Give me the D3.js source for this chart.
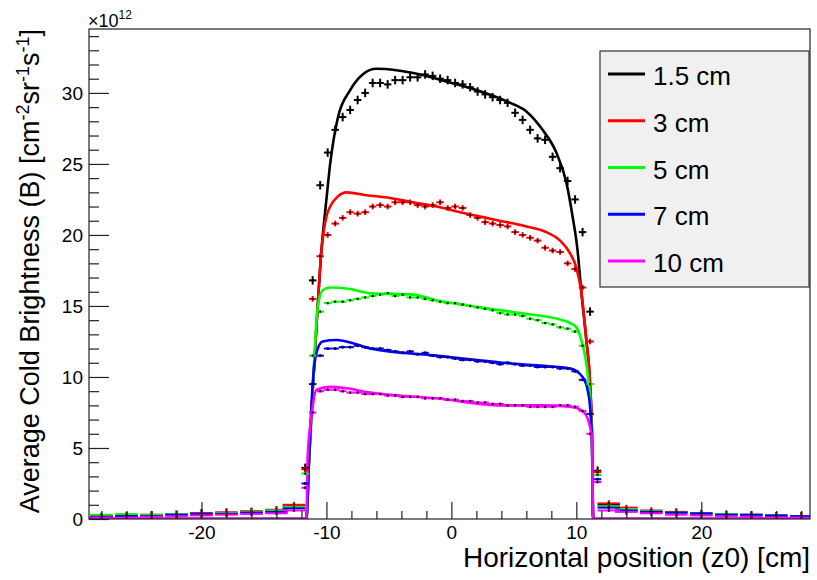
<html>
<head>
<script src="https://cdn.jsdelivr.net/npm/d3@7"></script>
<style>
body { margin: 0; background: #fff; }
text { font-family: "Liberation Sans", Arial, sans-serif; fill: #000; }
</style>
</head>
<body>
<div id="chart"></div>
<script>
// legend entries
const seriesNames = ["1.5 cm", "3 cm", "5 cm", "7 cm", "10 cm"];
const seriesColors = ["#000000", "#ff0000", "#00ff00", "#0000ff", "#ff00ff"];

// bin centres of the measured points inside the slit (cm)
const binX = [-11.7, -11.1, -10.5, -9.9, -9.3, -8.7, -8.1, -7.5, -6.9, -6.3, -5.7, -5.1, -4.5, -3.9, -3.3, -2.7, -2.1, -1.5, -0.9, -0.3,
              0.3, 0.9, 1.5, 2.1, 2.7, 3.3, 3.9, 4.5, 5.1, 5.7, 6.3, 6.9, 7.5, 8.1, 8.7, 9.3, 9.9, 10.5, 11.1, 11.7];

// measured brightness (x1e12)
const data15 = [3.6, 16.8, 23.5, 25.8, 27.4, 28.3, 28.8, 29.5, 30.0, 30.7, 30.7, 30.6, 30.9, 30.9, 31.1, 31.1, 31.3, 31.2, 31.0, 30.9,
                30.7, 30.6, 30.4, 30.1, 29.9, 29.7, 29.5, 29.3, 28.6, 28.1, 27.4, 26.8, 26.7, 25.5, 24.7, 23.8, 22.5, 20.2, 14.6, 3.4];
const data3  = [3.5, 15.5, 18.5, 20.0, 20.8, 21.2, 21.6, 21.5, 21.6, 22.0, 22.1, 22.0, 22.3, 22.3, 22.3, 22.1, 22.0, 22.1, 22.3, 21.9,
                22.0, 21.9, 21.4, 21.2, 20.9, 20.8, 20.7, 20.6, 20.2, 20.0, 19.8, 19.6, 19.1, 18.9, 18.8, 18.0, 17.6, 16.3, 12.5, 3.3];
const data5  = [3.2, 11.5, 14.6, 15.2, 15.3, 15.3, 15.4, 15.5, 15.6, 15.7, 15.8, 15.9, 15.7, 15.8, 15.6, 15.6, 15.5, 15.4, 15.3, 15.2,
                15.2, 15.1, 15.0, 14.9, 14.8, 14.7, 14.5, 14.4, 14.4, 14.3, 14.1, 14.0, 13.8, 13.7, 13.5, 13.4, 13.2, 12.2, 9.5, 3.1];
const data7  = [2.5, 9.5, 11.5, 12.0, 12.0, 12.1, 12.1, 12.2, 12.1, 12.0, 12.0, 11.9, 11.8, 11.7, 11.8, 11.6, 11.7, 11.5, 11.4, 11.4,
                11.3, 11.2, 11.2, 11.1, 11.1, 11.0, 10.9, 11.0, 10.9, 10.8, 10.8, 10.7, 10.7, 10.7, 10.6, 10.6, 10.4, 9.8, 7.4, 2.8];
const data10 = [2.2, 7.5, 9.0, 9.1, 9.1, 9.0, 8.9, 8.9, 8.8, 8.8, 8.8, 8.7, 8.7, 8.6, 8.6, 8.6, 8.5, 8.5, 8.5, 8.4,
                8.4, 8.3, 8.3, 8.2, 8.2, 8.1, 8.1, 8.0, 8.0, 8.0, 7.9, 7.9, 7.9, 7.9, 8.0, 8.0, 7.9, 7.6, 6.0, 2.6];

// wider bins outside the slit
const tailX = [-28, -26, -24, -22, -20, -18, -16, -14, -12.6, 12.6, 14, 16, 18, 20, 22, 24, 26, 28];
const tail15 = [0.15, 0.2, 0.25, 0.3, 0.4, 0.45, 0.5, 0.6, 0.9, 1.0, 0.6, 0.5, 0.45, 0.35, 0.3, 0.25, 0.2, 0.2];
const tail3  = [0.2, 0.2, 0.3, 0.35, 0.4, 0.45, 0.55, 0.65, 1.0, 1.1, 0.8, 0.6, 0.5, 0.4, 0.35, 0.3, 0.25, 0.2];
const tail5  = [0.3, 0.35, 0.3, 0.35, 0.35, 0.4, 0.5, 0.6, 0.85, 0.9, 0.7, 0.55, 0.45, 0.4, 0.35, 0.3, 0.25, 0.2];
const tail7  = [0.15, 0.2, 0.2, 0.3, 0.35, 0.35, 0.45, 0.5, 0.75, 0.8, 0.6, 0.5, 0.45, 0.4, 0.3, 0.3, 0.25, 0.2];
const tail10 = [0.1, 0.1, 0.15, 0.2, 0.25, 0.3, 0.35, 0.4, 0.6, 0.6, 0.5, 0.4, 0.3, 0.25, 0.2, 0.15, 0.1, 0.1];

// fitted model curves, [z0, B]
const fit15 = [[-29, 0], [-11.6, 0], [-11.4, 4], [-11.1, 9], [-10.8, 13.5], [-10.4, 18.9], [-10.0, 22.5], [-9.7, 25.0], [-9.1, 28.2],
               [-8.1, 30.2], [-7.1, 31.3], [-6.0, 31.7], [-4.4, 31.6], [-2.5, 31.3], [-0.4, 30.8], [2.0, 30.2], [4.7, 29.3],
               [6.0, 28.7], [7.3, 27.4], [8.4, 25.8], [9.2, 23.7], [9.7, 21.3], [10.1, 18.9], [10.4, 16.0], [10.8, 12.6],
               [11.1, 9.5], [11.25, 6], [11.35, 0], [28.7, 0]];
const fit3  = [[-29, 0], [-11.6, 0], [-11.4, 4], [-11.1, 9], [-10.8, 13.5], [-10.4, 18.9], [-10.0, 21.3], [-9.7, 22.0], [-9.1, 22.7],
               [-8.4, 23.0], [-6.8, 22.8], [-4.9, 22.6], [-3.1, 22.3], [-1.2, 22.0], [0.7, 21.6], [2.3, 21.3], [3.3, 21.1],
               [6.0, 20.6], [7.6, 20.2], [8.7, 19.6], [9.5, 18.7], [10.0, 17.7], [10.4, 16.0], [10.8, 12.6], [11.1, 9.5],
               [11.25, 6], [11.35, 0], [28.7, 0]];
const fit5  = [[-29, 0], [-11.6, 0], [-11.4, 4], [-11.1, 9], [-10.9, 12.5], [-10.7, 14.9], [-10.3, 16.1], [-9.7, 16.3], [-8.1, 16.2],
               [-6.5, 15.9], [-3.1, 15.8], [-1.2, 15.4], [2.3, 14.9], [5.5, 14.5], [8.9, 14.0], [10.0, 13.5], [10.4, 12.6],
               [10.7, 11.5], [10.9, 10.3], [11.1, 8.5], [11.25, 5.5], [11.35, 0], [28.7, 0]];
const fit7  = [[-29, 0], [-11.6, 0], [-11.4, 4], [-11.1, 9.5], [-10.8, 11.7], [-10.3, 12.5], [-9.2, 12.6], [-7.6, 12.3], [-6.5, 12.0],
               [-1.2, 11.5], [4.1, 11.0], [7.1, 10.8], [9.5, 10.6], [10.5, 10.0], [10.9, 9.1], [11.1, 7.9], [11.25, 5.5],
               [11.35, 0], [28.7, 0]];
const fit10 = [[-29, 0], [-11.6, 0], [-11.5, 4.4], [-11.2, 7.2], [-10.8, 9.1], [-9.7, 9.3], [-8.4, 9.2], [-6.5, 8.9], [-1.2, 8.5],
               [4.1, 8.0], [7.1, 8.0], [9.5, 7.9], [10.5, 7.6], [10.9, 7.1], [11.25, 5.6], [11.35, 0], [28.7, 0]];

// error bar half heights per series
const errY = [0.3, 0.2, 0.1, 0.1, 0.1];

const xTicks = [-20, -10, 0, 10, 20];
const xMinor = [-28, -26, -24, -22, -18, -16, -14, -12, -8, -6, -4, -2, 2, 4, 6, 8, 12, 14, 16, 18, 22, 24, 26, 28];
const yTicks = [0, 5, 10, 15, 20, 25, 30];
const yMinor = [1, 2, 3, 4, 6, 7, 8, 9, 11, 12, 13, 14, 16, 17, 18, 19, 21, 22, 23, 24, 26, 27, 28, 29, 31, 32, 33, 34];

const dataSets = [data15, data3, data5, data7, data10];
const tailSets = [tail15, tail3, tail5, tail7, tail10];
const fitSets = [fit15, fit3, fit5, fit7, fit10];

var width = 817, height = 580;
var pLeft = 89, pRight = 810, pTop = 29, pBottom = 519; // frame of the pad

var x = d3.scaleLinear().domain([-29, 28.7]).range([pLeft, pRight]);
var y = d3.scaleLinear().domain([0, 34.5]).range([pBottom, pTop]);

const svg = d3.select("#chart").append("svg")
    .attr("width", width)
    .attr("height", height);

svg.append("rect").attr("width", width).attr("height", height).attr("fill", "#fff");

svg.append("clipPath").attr("id", "plotclip")
    .append("rect")
    .attr("x", pLeft).attr("y", pTop)
    .attr("width", pRight - pLeft).attr("height", pBottom - pTop);

const plot = svg.append("g").attr("clip-path", "url(#plotclip)");

// fits first, black -> magenta so magenta ends on top
var line = d3.line().x(d => x(d[0])).y(d => y(d[1])).curve(d3.curveMonotoneX);
fitSets.forEach((f, i) => {
    plot.append("path")
        .attr("d", line(f))
        .attr("fill", "none")
        .attr("stroke", seriesColors[i])
        .attr("stroke-width", 2.6);
});

// measured points: bin width bar + error bar + dot
function drawPoints(xs, vals, halfW, i) {
    const g = plot.append("g");
    const pts = xs.map((v, k) => ({ z: v, b: vals[k] }));
    g.selectAll(".hbar").data(pts).enter().append("line")
        .attr("x1", d => x(d.z - halfW)).attr("x2", d => x(d.z + halfW))
        .attr("y1", d => y(d.b)).attr("y2", d => y(d.b))
        .attr("stroke", seriesColors[i]).attr("stroke-width", 2);
    g.selectAll(".vbar").data(pts).enter().append("line")
        .attr("x1", d => x(d.z)).attr("x2", d => x(d.z))
        .attr("y1", d => y(d.b - errY[i])).attr("y2", d => y(d.b + errY[i]))
        .attr("stroke", seriesColors[i]).attr("stroke-width", 2);
    g.selectAll(".dot").data(pts).enter().append("rect")
        .attr("x", d => x(d.z) - 1).attr("y", d => y(d.b) - 1)
        .attr("width", 2).attr("height", 2)
        .attr("fill", "#000");
}
dataSets.forEach((d, i) => drawPoints(binX, d, 0.3, i));
tailSets.forEach((d, i) => drawPoints(tailX, d, 0.9, i));

// axes
var xaxis = d3.axisBottom(x).tickValues(xTicks).tickSize(-17).tickPadding(7).tickFormat(d => String(d));
var xminor = d3.axisBottom(x).tickValues(xMinor).tickSize(-8).tickFormat("");
var yaxis = d3.axisLeft(y).tickValues(yTicks).tickSize(-20).tickPadding(6).tickFormat(d => String(d));
var yminor = d3.axisLeft(y).tickValues(yMinor).tickSize(-10).tickFormat("");

[[xaxis, "translate(0," + pBottom + ")"], [xminor, "translate(0," + pBottom + ")"],
 [yaxis, "translate(" + pLeft + ",0)"], [yminor, "translate(" + pLeft + ",0)"]].forEach(a => {
    const g = svg.append("g").attr("transform", a[1]).call(a[0]);
    g.select(".domain").remove();
    g.selectAll("line").attr("stroke", "#222").attr("stroke-width", 1.2);
    g.selectAll("text").attr("font-size", 19).attr("fill", "#111")
        .style("font-family", '"Liberation Sans", Arial, sans-serif');
});

// frame
svg.append("rect")
    .attr("x", pLeft).attr("y", pTop)
    .attr("width", pRight - pLeft).attr("height", pBottom - pTop)
    .attr("fill", "none").attr("stroke", "#222").attr("stroke-width", 1.2);

// exponent
const expo = svg.append("text").attr("x", pLeft - 1).attr("y", 27).attr("font-size", 18).text("\u00d710");
expo.append("tspan").attr("font-size", 12).attr("dy", -8).text("12");

// axis titles
svg.append("text")
    .attr("x", pRight).attr("y", 567)
    .attr("text-anchor", "end")
    .attr("font-size", 28)
    .text("Horizontal position (z0) [cm]");

const ytitle = svg.append("text")
    .attr("transform", "translate(38.5," + pTop + ") rotate(-90)")
    .attr("text-anchor", "end")
    .attr("font-size", 27);
ytitle.append("tspan").text("Average Cold Brightness (B) [cm");
ytitle.append("tspan").attr("font-size", 18).attr("dy", -10).text("-2");
ytitle.append("tspan").attr("dy", 10).text("sr");
ytitle.append("tspan").attr("font-size", 18).attr("dy", -10).text("-1");
ytitle.append("tspan").attr("dy", 10).text("s");
ytitle.append("tspan").attr("font-size", 18).attr("dy", -10).text("-1");
ytitle.append("tspan").attr("dy", 10).text("]");

// legend
var ly = d3.scalePoint().domain(seriesNames).range([74, 261]);
const legend = svg.append("g");
legend.append("rect")
    .attr("x", 600).attr("y", 51).attr("width", 209).attr("height", 236)
    .attr("fill", "#f0f0f0").attr("stroke", "#333").attr("stroke-width", 1.2);
seriesNames.forEach((n, i) => {
    legend.append("line")
        .attr("x1", 608).attr("x2", 645)
        .attr("y1", ly(n)).attr("y2", ly(n))
        .attr("stroke", seriesColors[i]).attr("stroke-width", 3);
    legend.append("text")
        .attr("x", 653).attr("y", ly(n) + 11)
        .attr("font-size", 26)
        .text(n);
});
</script>
</body>
</html>
